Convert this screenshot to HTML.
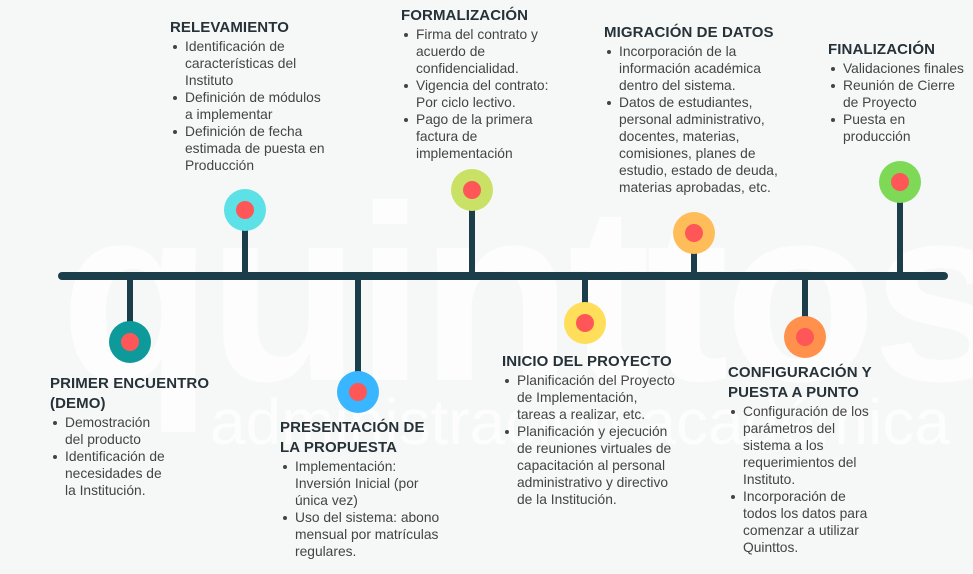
<!DOCTYPE html>
<html><head><meta charset="utf-8"><style>
body{margin:0;width:973px;height:574px;overflow:hidden;background:#f6f7f7;font-family:"Liberation Sans",sans-serif;position:relative}
.wm{position:absolute;color:#fdfdfd;white-space:nowrap;font-weight:bold}
.b{position:absolute;color:#444;font-size:13.8px;line-height:17px;white-space:nowrap}
.b h{display:block;font-size:15px;font-weight:bold;color:#263238;line-height:20px;letter-spacing:0.1px}
.b ul{margin:0;padding:0;list-style:none}
.b li{position:relative;padding-left:15px}
.b li:before{content:"";position:absolute;left:3px;top:7px;width:4px;height:4px;border-radius:50%;background:#444}
.line{position:absolute;left:58px;top:272px;width:890px;height:8px;border-radius:4px;background:#1b3e4a}
.stem{position:absolute;width:6px;background:#1b3e4a}
.c{position:absolute;width:42px;height:42px;border-radius:50%}
.c:after{content:"";position:absolute;left:12px;top:12px;width:18px;height:18px;border-radius:50%;background:#ff5757}
</style></head><body>
<div class="wm" style="left:60px;top:150px;font-size:250px;letter-spacing:-5px;">quinttos</div>
<div class="wm" style="left:210px;top:385px;font-size:64px;font-weight:normal;">administración académica</div>

<div class="line"></div>
<div class="stem" style="left:127px;top:276px;height:66px"></div>
<div class="c" style="left:109px;top:321px;background:#0e9a9a"></div>
<div class="stem" style="left:242px;top:210px;height:66px"></div>
<div class="c" style="left:224px;top:189px;background:#5ce1e6"></div>
<div class="stem" style="left:355px;top:276px;height:116px"></div>
<div class="c" style="left:337px;top:371px;background:#38b6ff"></div>
<div class="stem" style="left:469px;top:190px;height:86px"></div>
<div class="c" style="left:451px;top:169px;background:#c9e265"></div>
<div class="stem" style="left:582px;top:276px;height:47px"></div>
<div class="c" style="left:564px;top:302px;background:#ffde59"></div>
<div class="stem" style="left:691px;top:233px;height:43px"></div>
<div class="c" style="left:673px;top:212px;background:#ffbd59"></div>
<div class="stem" style="left:802px;top:276px;height:61px"></div>
<div class="c" style="left:784px;top:316px;background:#ff914d"></div>
<div class="stem" style="left:897px;top:182px;height:94px"></div>
<div class="c" style="left:879px;top:161px;background:#7ed957"></div>

<div class="b" style="left:170px;top:18px"><h>RELEVAMIENTO</h><ul>
<li>Identificación de<br>características del<br>Instituto</li>
<li>Definición de módulos<br>a implementar</li>
<li>Definición de fecha<br>estimada de puesta en<br>Producción</li></ul></div>

<div class="b" style="left:401px;top:6px"><h>FORMALIZACIÓN</h><ul>
<li>Firma del contrato y<br>acuerdo de<br>confidencialidad.</li>
<li>Vigencia del contrato:<br>Por ciclo lectivo.</li>
<li>Pago de la primera<br>factura de<br>implementación</li></ul></div>

<div class="b" style="left:604px;top:23px"><h>MIGRACIÓN DE DATOS</h><ul>
<li>Incorporación de la<br>información académica<br>dentro del sistema.</li>
<li>Datos de estudiantes,<br>personal administrativo,<br>docentes, materias,<br>comisiones, planes de<br>estudio, estado de deuda,<br>materias aprobadas, etc.</li></ul></div>

<div class="b" style="left:828px;top:40px"><h>FINALIZACIÓN</h><ul>
<li>Validaciones finales</li>
<li>Reunión de Cierre<br>de Proyecto</li>
<li>Puesta en<br>producción</li></ul></div>

<div class="b" style="left:50px;top:374px"><h>PRIMER ENCUENTRO<br>(DEMO)</h><ul>
<li>Demostración<br>del producto</li>
<li>Identificación de<br>necesidades de<br>la Institución.</li></ul></div>

<div class="b" style="left:280px;top:418px"><h>PRESENTACIÓN DE<br>LA PROPUESTA</h><ul>
<li>Implementación:<br>Inversión Inicial (por<br>única vez)</li>
<li>Uso del sistema: abono<br>mensual por matrículas<br>regulares.</li></ul></div>

<div class="b" style="left:502px;top:352px"><h>INICIO DEL PROYECTO</h><ul>
<li>Planificación del Proyecto<br>de Implementación,<br>tareas a realizar, etc.</li>
<li>Planificación y ejecución<br>de reuniones virtuales de<br>capacitación al personal<br>administrativo y directivo<br>de la Institución.</li></ul></div>

<div class="b" style="left:728px;top:363px"><h>CONFIGURACIÓN Y<br>PUESTA A PUNTO</h><ul>
<li>Configuración de los<br>parámetros del<br>sistema a los<br>requerimientos del<br>Instituto.</li>
<li>Incorporación de<br>todos los datos para<br>comenzar a utilizar<br>Quinttos.</li></ul></div>
</body></html>
